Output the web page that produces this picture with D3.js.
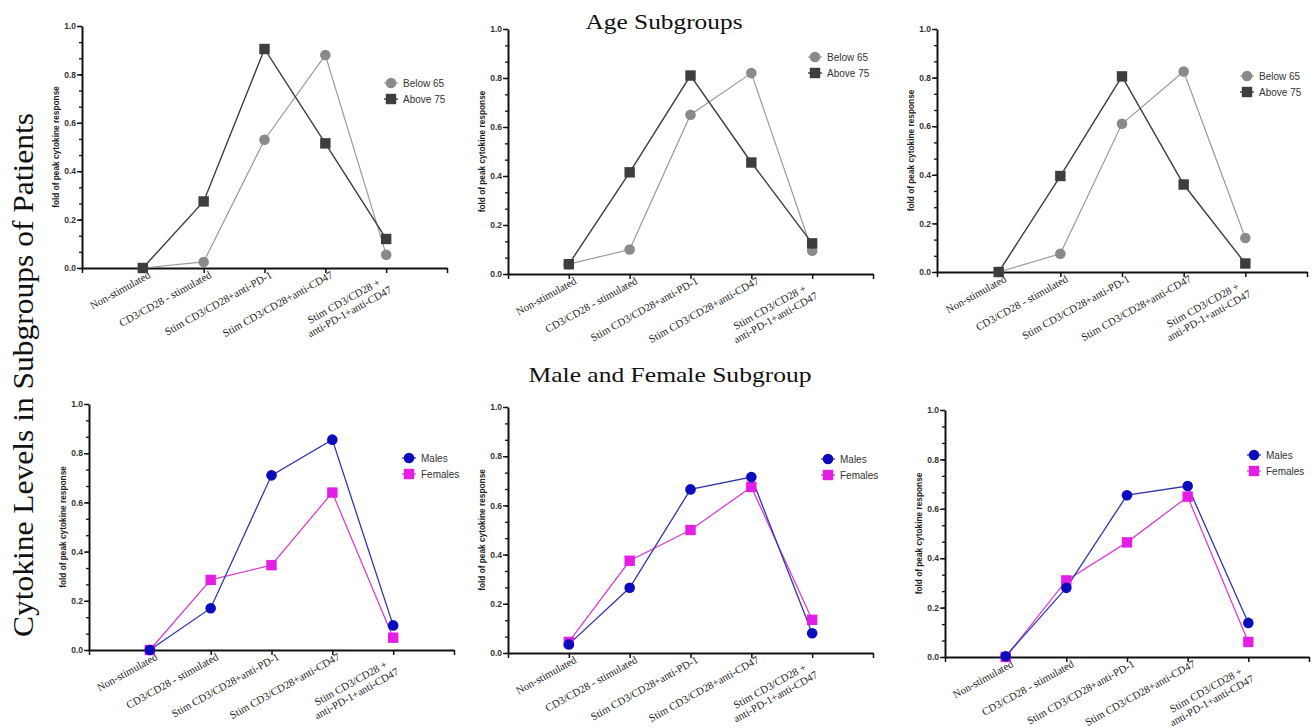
<!DOCTYPE html>
<html>
<head>
<meta charset="utf-8">
<script src="https://cdn.jsdelivr.net/npm/d3@7/dist/d3.min.js"></script>
<style>
  body { margin: 0; background: #fff; }
</style>
</head>
<body>
<div class="chart"></div>
<script>
// categories on the x axis (multi-line labels as arrays)
var categories = [
  ["Non-stimulated"],
  ["CD3/CD28 - stimulated"],
  ["Stim CD3/CD28+anti-PD-1"],
  ["Stim CD3/CD28+anti-CD47"],
  ["Stim CD3/CD28 +", "anti-PD-1+anti-CD47"]
];
var yTickValues = [0, 0.2, 0.4, 0.6, 0.8, 1.0];

// age subgroups, three panels
var below65A = [0, 0.025, 0.53, 0.88, 0.055];
var above75A = [0, 0.275, 0.905, 0.515, 0.12];
var below65B = [0.04, 0.1, 0.65, 0.82, 0.095];
var above75B = [0.04, 0.415, 0.81, 0.455, 0.125];
var below65C = [0, 0.075, 0.61, 0.825, 0.14];
var above75C = [0, 0.395, 0.805, 0.36, 0.035];

// male / female subgroups, three panels
var malesA = [0, 0.17, 0.71, 0.855, 0.1];
var femalesA = [0, 0.285, 0.345, 0.64, 0.05];
var malesB = [0.035, 0.265, 0.665, 0.715, 0.08];
var femalesB = [0.045, 0.375, 0.5, 0.675, 0.135];
var malesC = [0.003, 0.28, 0.655, 0.692, 0.138];
var femalesC = [0, 0.31, 0.464, 0.649, 0.061];

var ageSeries = [
  { name: "Below 65", shape: "circle", fill: "#8a8a8a", line: "#9a9a9a", lw: 1.2 },
  { name: "Above 75", shape: "square", fill: "#3d3d3d", line: "#3d3d3d", lw: 1.4 }
];
var sexSeries = [
  { name: "Males", shape: "circle", fill: "#0c0cbf", line: "#3434a8", lw: 1.3 },
  { name: "Females", shape: "square", fill: "#e41ee4", line: "#d640d6", lw: 1.3 }
];

var panels = [
  { x0: 82, x1: 447, yTop: 26, yBot: 268, lx: 391, ly: 83, series: ageSeries, values: [below65A, above75A], order: [0, 1] },
  { x0: 508, x1: 873, yTop: 29, yBot: 274, lx: 815, ly: 57, series: ageSeries, values: [below65B, above75B], order: [0, 1] },
  { x0: 937, x1: 1307, yTop: 29, yBot: 272, lx: 1247, ly: 76, series: ageSeries, values: [below65C, above75C], order: [0, 1] },
  { x0: 89, x1: 454, yTop: 404, yBot: 650, lx: 409, ly: 458, series: sexSeries, values: [malesA, femalesA], order: [1, 0] },
  { x0: 508, x1: 873, yTop: 407, yBot: 653, lx: 828, ly: 459, series: sexSeries, values: [malesB, femalesB], order: [1, 0] },
  { x0: 945, x1: 1309, yTop: 410, yBot: 657, lx: 1254, ly: 455, series: sexSeries, values: [malesC, femalesC], order: [1, 0] }
];

var svg = d3.select(".chart")
  .append("svg")
  .attr("width", 1315)
  .attr("height", 728);

var serif = "'Liberation Serif', 'Times New Roman', serif";
var sans = "'Liberation Sans', Arial, sans-serif";

function marker(sel, shape, fill) {
  if (shape == "circle") {
    sel.append("circle").attr("r", 5.3).attr("fill", fill);
  } else {
    sel.append("rect").attr("x", -5.2).attr("y", -5.2).attr("width", 10.4).attr("height", 10.4).attr("fill", fill);
  }
}

function drawPanel(p) {
  var x = d3.scaleLinear().domain([0, 6]).range([p.x0, p.x1]);
  var y = d3.scaleLinear().domain([0, 1]).range([p.yBot, p.yTop]);
  var g = svg.append("g");

  // minor ticks on y
  g.append("g")
    .attr("transform", "translate(" + p.x0 + ",0)")
    .call(d3.axisLeft(y).tickValues(d3.range(0, 16).map(function(i){ return i / 15; })).tickSize(3).tickSizeOuter(0).tickFormat(""))
    .call(function(a){ a.select(".domain").remove(); a.selectAll("line").attr("stroke", "#111").attr("stroke-width", 1.3); });

  // major y axis
  g.append("g")
    .attr("transform", "translate(" + p.x0 + ",0)")
    .call(d3.axisLeft(y).tickValues(yTickValues).tickSize(5).tickSizeOuter(0).tickPadding(1).tickFormat(d3.format(".1f")))
    .call(function(a){
      a.select(".domain").attr("stroke", "#111").attr("stroke-width", 2);
      a.selectAll("line").attr("stroke", "#111").attr("stroke-width", 1.4);
      a.selectAll("text").attr("font-family", sans).attr("font-weight", "bold").attr("font-size", 8.5).attr("fill", "#333");
    });

  // x axis
  g.append("g")
    .attr("transform", "translate(0," + p.yBot + ")")
    .call(d3.axisBottom(x).tickValues([0, 1, 2, 3, 4, 5, 6]).tickSize(5).tickSizeOuter(0).tickFormat(""))
    .call(function(a){
      a.select(".domain").attr("stroke", "#111").attr("stroke-width", 2);
      a.selectAll("line").attr("stroke", "#111").attr("stroke-width", 1.5);
    });

  // rotated category labels
  categories.forEach(function(lines, i) {
    var lg = g.append("g")
      .attr("transform", "translate(" + x(i + 1) + "," + p.yBot + ") rotate(-29)");
    if (lines.length == 1) {
      lg.append("text")
        .attr("x", 3).attr("y", 12)
        .attr("text-anchor", "end")
        .attr("font-family", serif).attr("font-size", 10.8).attr("fill", "#222")
        .text(lines[0]);
    } else {
      var ts = lines.map(function(s, j) {
        return lg.append("text")
          .attr("y", 12 + j * 12)
          .attr("text-anchor", "middle")
          .attr("font-family", serif).attr("font-size", 10.8).attr("fill", "#222")
          .text(s);
      });
      var w = d3.max(ts, function(t){ return t.node().getComputedTextLength(); });
      ts.forEach(function(t){ t.attr("x", -w / 2 - 6); });
    }
  });

  // y axis title
  g.append("text")
    .attr("transform", "translate(" + (p.x0 - 23) + "," + ((p.yTop + p.yBot) / 2) + ") rotate(-90)")
    .attr("text-anchor", "middle")
    .attr("font-family", sans).attr("font-weight", "bold").attr("font-size", 8.3).attr("fill", "#222")
    .text("fold of peak cytokine response");

  var line = d3.line()
    .x(function(d, i){ return x(i + 1); })
    .y(function(d){ return y(d); });

  p.order.forEach(function(k) {
    var s = p.series[k];
    g.append("path")
      .datum(p.values[k])
      .attr("d", line)
      .attr("fill", "none")
      .attr("stroke", s.line)
      .attr("stroke-width", s.lw);
  });
  p.order.forEach(function(k) {
    var s = p.series[k];
    g.selectAll(".pt" + k)
      .data(p.values[k])
      .enter().append("g")
      .attr("transform", function(d, i){ return "translate(" + x(i + 1) + "," + y(d) + ")"; })
      .each(function(){ marker(d3.select(this), s.shape, s.fill); });
  });

  // legend
  p.series.forEach(function(s, k) {
    var lg = g.append("g").attr("transform", "translate(" + p.lx + "," + (p.ly + k * 16) + ")");
    lg.append("line").attr("x1", -7).attr("x2", 7).attr("stroke", s.line).attr("stroke-width", s.lw);
    marker(lg, s.shape, s.fill);
    lg.append("text")
      .attr("x", 12).attr("y", 3.5)
      .attr("font-family", sans).attr("font-size", 10).attr("fill", "#333")
      .text(s.name);
  });
}

panels.forEach(drawPanel);

// titles
svg.append("text")
  .attr("x", 664).attr("y", 29)
  .attr("text-anchor", "middle")
  .attr("font-family", serif).attr("font-size", 22).attr("fill", "#111")
  .attr("textLength", 157).attr("lengthAdjust", "spacingAndGlyphs")
  .text("Age Subgroups");

svg.append("text")
  .attr("x", 670).attr("y", 382)
  .attr("text-anchor", "middle")
  .attr("font-family", serif).attr("font-size", 22).attr("fill", "#111")
  .attr("textLength", 283).attr("lengthAdjust", "spacingAndGlyphs")
  .text("Male and Female Subgroup");

svg.append("text")
  .attr("transform", "translate(33,375) rotate(-90)")
  .attr("text-anchor", "middle")
  .attr("font-family", serif).attr("font-size", 30).attr("fill", "#111")
  .attr("textLength", 524).attr("lengthAdjust", "spacingAndGlyphs")
  .text("Cytokine Levels in Subgroups of Patients");
</script>
</body>
</html>
